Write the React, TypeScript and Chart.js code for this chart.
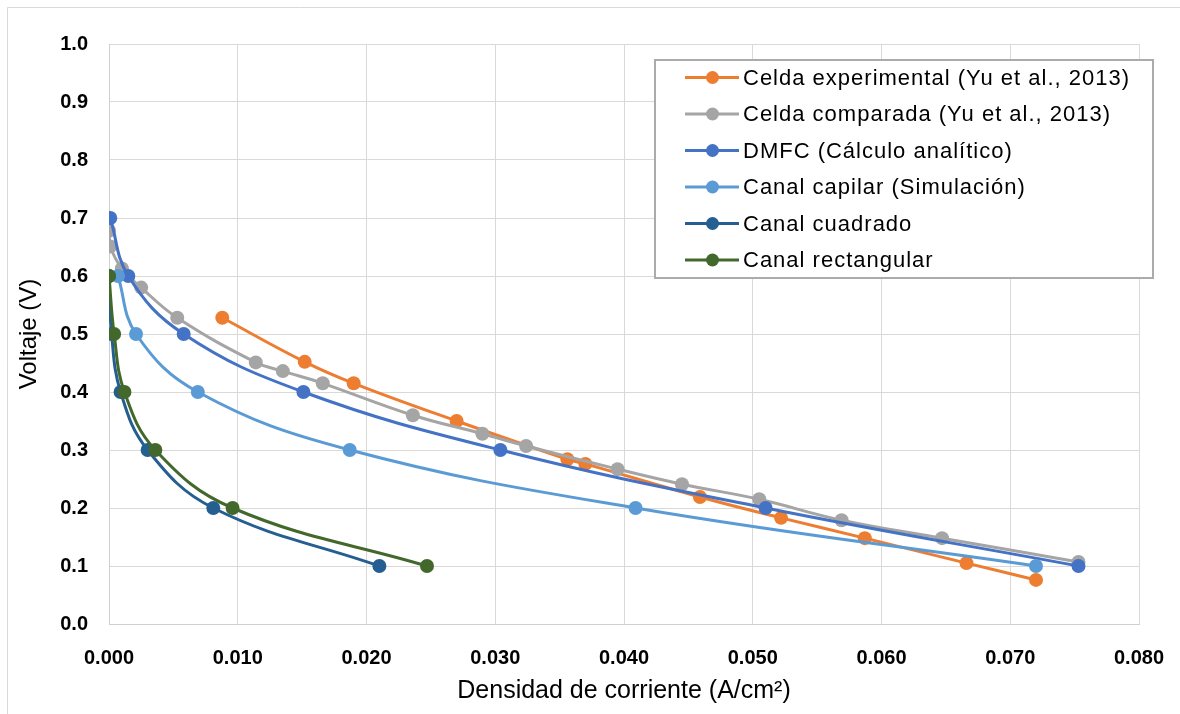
import React, { useEffect, useRef } from "react";
import { Chart, registerables } from "chart.js";

Chart.register(...registerables);

const seriesLabels = [
  "Celda experimental (Yu et al., 2013)",
  "Celda comparada (Yu et al., 2013)",
  "DMFC (Cálculo analítico)",
  "Canal capilar (Simulación)",
  "Canal cuadrado",
  "Canal rectangular",
];
const seriesColors = ["#ED7D31", "#A5A5A5", "#4472C4", "#5B9BD5", "#255E91", "#43682B"];

const expX = [0.0088, 0.0152, 0.019, 0.027, 0.0356, 0.037, 0.0459, 0.0522, 0.0587, 0.0666, 0.072];
const expY = [0.528, 0.452, 0.415, 0.35, 0.284, 0.276, 0.219, 0.183, 0.148, 0.105, 0.076];

const compX = [0.0, 0.0001, 0.001, 0.0025, 0.0053, 0.0114, 0.0135, 0.0166, 0.0236, 0.029, 0.0324, 0.0395, 0.0445, 0.0505, 0.0569, 0.0647, 0.0753];
const compY = [0.678, 0.651, 0.613, 0.58, 0.528, 0.451, 0.436, 0.415, 0.36, 0.328, 0.307, 0.267, 0.241, 0.215, 0.179, 0.148, 0.107];

const dmfcX = [0.0001, 0.0015, 0.0058, 0.0151, 0.0304, 0.051, 0.0753];
const dmfcY = [0.7, 0.6, 0.5, 0.4, 0.3, 0.2, 0.1];

const capX = [0.0007, 0.0021, 0.0069, 0.0187, 0.0409, 0.072];
const capY = [0.6, 0.5, 0.4, 0.3, 0.2, 0.1];

const cuadX = [0.0, 0.0002, 0.0009, 0.003, 0.0081, 0.021];
const cuadY = [0.6, 0.5, 0.4, 0.3, 0.2, 0.1];

const rectX = [0.0, 0.0004, 0.0012, 0.0036, 0.0096, 0.0247];
const rectY = [0.6, 0.5, 0.4, 0.3, 0.2, 0.1];

const seriesX = [expX, compX, dmfcX, capX, cuadX, rectX];
const seriesY = [expY, compY, dmfcY, capY, cuadY, rectY];

const xTitle = "Densidad de corriente (A/cm²)";
const yTitle = "Voltaje (V)";

const bgPlugin = {
  id: "bgBorder",
  beforeDraw(chart: any) {
    const { ctx, width, height } = chart;
    ctx.save();
    ctx.fillStyle = "#ffffff";
    ctx.fillRect(0, 0, width, height);
    ctx.strokeStyle = "#d9d9d9";
    ctx.lineWidth = 1;
    ctx.beginPath();
    ctx.moveTo(0.5, height);
    ctx.lineTo(0.5, 0.5);
    ctx.lineTo(width, 0.5);
    ctx.stroke();
    ctx.restore();
  },
};

const legendPlugin = {
  id: "customLegend",
  afterDraw(chart: any) {
    const { ctx } = chart;
    const left = 648, top = 53, right = 1146, bottom = 271;
    ctx.save();
    ctx.fillStyle = "#ffffff";
    ctx.fillRect(left, top, right - left, bottom - top);
    ctx.strokeStyle = "#ababab";
    ctx.lineWidth = 2;
    ctx.strokeRect(left, top, right - left, bottom - top);
    chart.data.datasets.forEach((ds: any, i: number) => {
      const y = 70.5 + i * 36.5;
      ctx.strokeStyle = ds.borderColor;
      ctx.lineWidth = 3;
      ctx.beginPath();
      ctx.moveTo(678, y);
      ctx.lineTo(732, y);
      ctx.stroke();
      ctx.fillStyle = ds.borderColor;
      ctx.beginPath();
      ctx.arc(705.5, y, 6.5, 0, Math.PI * 2);
      ctx.fill();
      ctx.fillStyle = "#000000";
      ctx.font = "22px 'Liberation Sans', Arial, sans-serif";
      try { (ctx as any).letterSpacing = "1px"; } catch (e) { /* ignore */ }
      ctx.textBaseline = "middle";
      ctx.textAlign = "left";
      ctx.fillText(ds.label, 736, y + 1);
      try { (ctx as any).letterSpacing = "0px"; } catch (e) { /* ignore */ }
    });
    ctx.restore();
  },
};

export default function App() {
  const ref = useRef<HTMLCanvasElement | null>(null);
  useEffect(() => {
    if (!ref.current) return;
    const datasets = seriesLabels.map((label, i) => ({
      label,
      data: seriesX[i].map((x, j) => ({ x, y: seriesY[i][j] })),
      borderColor: seriesColors[i],
      backgroundColor: seriesColors[i],
      pointBackgroundColor: seriesColors[i],
      pointBorderColor: seriesColors[i],
      pointRadius: 7,
      pointBorderWidth: 0,
      borderWidth: 3,
      showLine: true,
      tension: 0.4,
      order: seriesLabels.length - i,
    }));
    const chart = new Chart(ref.current, {
      type: "scatter",
      data: { datasets },
      plugins: [bgPlugin, legendPlugin],
      options: {
        animation: false,
        responsive: false,
        devicePixelRatio: 1,
        layout: { padding: { top: 37, right: 41, left: 0, bottom: 0 } },
        plugins: { legend: { display: false }, tooltip: { enabled: false } },
        scales: {
          x: {
            type: "linear",
            min: 0,
            max: 0.08,
            afterFit: (s: any) => {
              s.height = 90;
              s.paddingLeft = 0;
              s.paddingRight = 0;
            },
            ticks: {
              stepSize: 0.01,
              padding: 22,
              color: "#000000",
              font: { family: "'Liberation Sans', Arial, sans-serif", size: 20, weight: "bold" },
              callback: (v: any) => Number(v).toFixed(3),
            },
            grid: { color: "#d9d9d9", lineWidth: 1, drawTicks: false },
            border: { color: "#d0d0d0" },
            title: {
              display: true,
              text: xTitle,
              color: "#000000",
              padding: { top: 0, bottom: 8 },
              font: { family: "'Liberation Sans', Arial, sans-serif", size: 25, weight: "normal" },
            },
          },
          y: {
            type: "linear",
            min: 0,
            max: 1,
            afterFit: (s: any) => {
              s.width = 102;
              s.paddingTop = 0;
              s.paddingBottom = 0;
            },
            ticks: {
              stepSize: 0.1,
              padding: 21,
              color: "#000000",
              font: { family: "'Liberation Sans', Arial, sans-serif", size: 20, weight: "bold" },
              callback: (v: any) => Number(v).toFixed(1),
            },
            grid: { color: "#d9d9d9", lineWidth: 1, drawTicks: false },
            border: { color: "#d0d0d0" },
            title: {
              display: true,
              text: yTitle,
              color: "#000000",
              padding: { top: 8, bottom: 0 },
              font: { family: "'Liberation Sans', Arial, sans-serif", size: 24, weight: "normal" },
            },
          },
        },
      },
    });
    return () => chart.destroy();
  }, []);
  return (
    <div style={{ position: "absolute", left: 7, top: 7 }}>
      <canvas ref={ref} width={1173} height={707} style={{ width: 1173, height: 707, display: "block" }} />
    </div>
  );
}
